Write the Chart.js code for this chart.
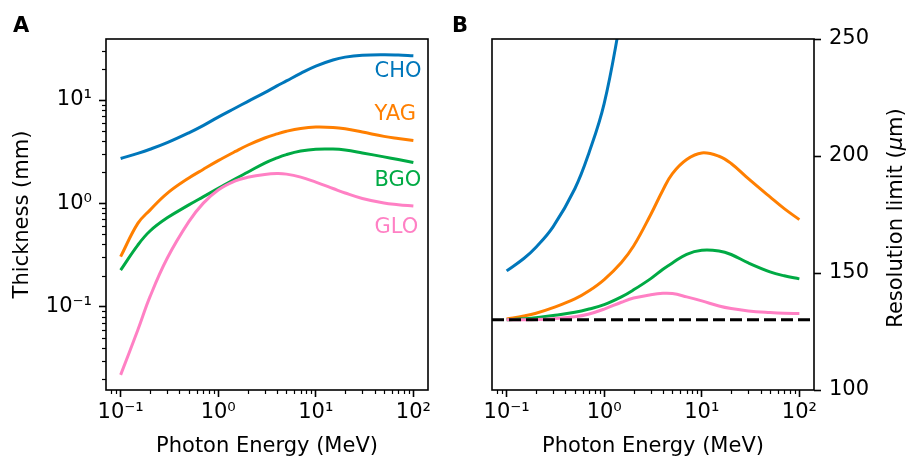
<!DOCTYPE html>
<html>
<head>
<meta charset="utf-8">
<script src="https://cdn.jsdelivr.net/npm/chart.js@4.4.1/dist/chart.umd.min.js"></script>
<style>
  html, body { margin: 0; padding: 0; background: #fff; }
  #wrap { position: relative; width: 909px; height: 459px; }
  #chartA { position: absolute; left: 0; top: 0; }
  #chartB { position: absolute; left: 450px; top: 0; }
</style>
</head>
<body>
<div id="wrap">
  <canvas id="chartA" width="450" height="459"></canvas>
  <canvas id="chartB" width="459" height="459"></canvas>
</div>
<script>
// photon energy (MeV) at which each curve was read
const energies = [0.1, 0.15, 0.2, 0.3, 0.5, 0.7, 1, 1.5, 2, 3, 4, 5, 7, 10, 15, 20, 30, 50, 70, 100];

const materials = ['CHO', 'YAG', 'BGO', 'GLO'];
const colors = ['#0077bb', '#ff7f00', '#00aa44', '#ff80c4'];

// panel A: thickness (mm)
const thicknessCHO = [2.72, 3.05, 3.34, 3.87, 4.82, 5.66, 6.84, 8.37, 9.66, 11.8, 13.7, 15.3, 18.1, 21.3, 24.4, 26.0, 27.1, 27.4, 27.2, 26.8];
const thicknessYAG = [0.305, 0.64, 0.861, 1.25, 1.76, 2.13, 2.59, 3.18, 3.65, 4.29, 4.70, 4.99, 5.31, 5.47, 5.42, 5.26, 4.90, 4.45, 4.24, 4.05];
const thicknessBGO = [0.226, 0.395, 0.54, 0.724, 0.966, 1.156, 1.396, 1.73, 2.0, 2.455, 2.754, 2.965, 3.206, 3.342, 3.35, 3.28, 3.076, 2.818, 2.655, 2.489];
const thicknessGLO = [0.0219, 0.0594, 0.125, 0.294, 0.665, 1.0, 1.349, 1.652, 1.786, 1.905, 1.941, 1.919, 1.795, 1.603, 1.393, 1.259, 1.114, 1.007, 0.971, 0.942];

// panel B: resolution limit (um)
const resolutionCHO = [150.9, 156.2, 161, 169.8, 186, 201.5, 222.5, 260, null, null, null, null, null, null, null, null, null, null, null, null];
const resolutionYAG = [130.3, 131.6, 132.8, 135.2, 138.9, 142.4, 147.2, 154.5, 161.5, 175, 185.5, 192.5, 198.5, 201.3, 199.9, 196.8, 190.3, 182.5, 177.5, 172.8];
const resolutionBGO = [130, 130.4, 130.9, 131.8, 133.2, 134.6, 136.5, 139.8, 142.8, 147.6, 151.6, 154.3, 158, 159.7, 159.4, 157.9, 154.3, 150.5, 148.8, 147.5];
const resolutionGLO = [130, 130, 130.1, 130.5, 131.3, 132.5, 134.6, 137.5, 139.3, 140.7, 141.3, 141.2, 139.8, 138.1, 135.9, 134.8, 133.8, 133.1, 132.8, 132.7];
const baseResolution = 130;

// where the material names sit in panel A
const labelEnergy = 40;
const labelThickness = [19, 7.3, 1.65, 0.586];

const energyTicks = [0.1, 1, 10, 100];
const thicknessTicks = [0.1, 1, 10];
const resolutionTicks = [100, 150, 200, 250];

const energyMin = Math.pow(10, -1.15), energyMax = Math.pow(10, 2.15);

Chart.defaults.font.family = "'DejaVu Sans', sans-serif";
Chart.defaults.font.size = 21;
Chart.defaults.color = '#000';

const supChars = { '-': '\u207b', '0': '\u2070', '1': '\u00b9', '2': '\u00b2', '3': '\u00b3' };
function powLabel(v) {
    const p = String(Math.round(Math.log10(v)));
    return '10' + p.split('').map(c => supChars[c]).join('');
}

function points(ys) {
    return energies.map((e, i) => ({ x: e, y: ys[i] }));
}

function lineSet(label, ys, color, order) {
    return {
        label: label,
        data: points(ys),
        borderColor: color,
        borderWidth: 3,
        pointRadius: 0,
        fill: false,
        tension: 0.4,
        order: order
    };
}

const tickGrid = { display: true, drawOnChartArea: false, drawTicks: true, tickLength: 7, tickWidth: 1.6, tickColor: '#000' };

function energyAxis() {
    return {
        type: 'logarithmic',
        min: energyMin,
        max: energyMax,
        afterBuildTicks: s => { s.ticks = energyTicks.map(v => ({ value: v })); },
        afterFit: s => { s.height = 69; s.paddingLeft = 0; s.paddingRight = 0; },
        ticks: { callback: v => powLabel(v), padding: 3, maxRotation: 0, autoSkip: false },
        grid: tickGrid,
        border: { display: false },
        title: { display: true, text: 'Photon Energy (MeV)', padding: { top: 0, bottom: 0 } }
    };
}

const frame = {
    id: 'frame',
    afterDatasetsDraw(chart) {
        const a = chart.chartArea, ctx = chart.ctx;
        ctx.save();
        ctx.strokeStyle = '#000';
        ctx.lineWidth = 1.6;
        ctx.strokeRect(a.left, a.top, a.right - a.left, a.bottom - a.top);
        ctx.restore();
    }
};

const minorTicks = {
    id: 'minorTicks',
    afterDraw(chart, args, opts) {
        const ctx = chart.ctx;
        ctx.save();
        ctx.strokeStyle = '#000';
        ctx.lineWidth = 1.2;
        (opts.axes || []).forEach(id => {
            const s = chart.scales[id];
            for (let d = -3; d <= 3; d++) {
                for (let m = 2; m < 10; m++) {
                    const v = m * Math.pow(10, d);
                    if (v < s.min || v > s.max) continue;
                    const p = Math.round(s.getPixelForValue(v)) + 0.5;
                    ctx.beginPath();
                    if (s.isHorizontal()) { ctx.moveTo(p, s.top); ctx.lineTo(p, s.top + 4); }
                    else { ctx.moveTo(s.right, p); ctx.lineTo(s.right - 4, p); }
                    ctx.stroke();
                }
            }
        });
        ctx.restore();
    }
};

const panelLetter = {
    id: 'panelLetter',
    afterDraw(chart, args, opts) {
        const ctx = chart.ctx;
        ctx.save();
        ctx.font = "bold 21px 'DejaVu Sans'";
        ctx.fillStyle = '#000';
        ctx.textBaseline = 'alphabetic';
        ctx.fillText(opts.text, opts.x, 32);
        ctx.restore();
    }
};

const materialLabels = {
    id: 'materialLabels',
    afterDatasetsDraw(chart) {
        const ctx = chart.ctx, xs = chart.scales.x, ys = chart.scales.y;
        ctx.save();
        ctx.font = "21px 'DejaVu Sans'";
        ctx.textAlign = 'left';
        ctx.textBaseline = 'middle';
        materials.forEach((m, i) => {
            ctx.fillStyle = colors[i];
            ctx.fillText(m, xs.getPixelForValue(labelEnergy), ys.getPixelForValue(labelThickness[i]));
        });
        ctx.restore();
    }
};

// right-hand title, read bottom to top, with an italic mu
const rightTitle = {
    id: 'rightTitle',
    afterDraw(chart) {
        const ctx = chart.ctx;
        const parts = [['Resolution limit (', 'normal'], ['\u03bc', 'italic'], ['m)', 'normal']];
        ctx.save();
        ctx.translate(447, 218);
        ctx.rotate(-Math.PI / 2);
        ctx.fillStyle = '#000';
        ctx.textBaseline = 'middle';
        let total = 0;
        parts.forEach(p => { ctx.font = p[1] + " 21px 'DejaVu Sans'"; total += ctx.measureText(p[0]).width; });
        let x = -total / 2;
        parts.forEach(p => {
            ctx.font = p[1] + " 21px 'DejaVu Sans'";
            ctx.fillText(p[0], x, 0);
            x += ctx.measureText(p[0]).width;
        });
        ctx.restore();
    }
};

new Chart(document.getElementById('chartA'), {
    type: 'line',
    data: {
        datasets: [
            lineSet('GLO', thicknessGLO, colors[3], 1),
            lineSet('BGO', thicknessBGO, colors[2], 2),
            lineSet('YAG', thicknessYAG, colors[1], 3),
            lineSet('CHO', thicknessCHO, colors[0], 4)
        ]
    },
    options: {
        responsive: false,
        animation: false,
        devicePixelRatio: 1,
        events: [],
        layout: { padding: { left: 0, top: 39, right: 22, bottom: 0 } },
        scales: {
            x: energyAxis(),
            y: {
                type: 'logarithmic',
                min: Math.pow(10, -1.806),
                max: Math.pow(10, 1.5905),
                afterBuildTicks: s => { s.ticks = thicknessTicks.map(v => ({ value: v })); },
                afterFit: s => { s.width = 106; s.paddingTop = 0; s.paddingBottom = 0; },
                ticks: { callback: v => powLabel(v), padding: 7, autoSkip: false },
                grid: tickGrid,
                border: { display: false },
                title: { display: true, text: 'Thickness (mm)', padding: { top: 10, bottom: 0 } }
            }
        },
        plugins: {
            legend: { display: false },
            tooltip: { enabled: false },
            minorTicks: { axes: ['x', 'y'] },
            panelLetter: { text: 'A', x: 13 }
        }
    },
    plugins: [frame, minorTicks, panelLetter, materialLabels]
});

new Chart(document.getElementById('chartB'), {
    type: 'line',
    data: {
        datasets: [
            {
                label: 'limit',
                data: [{ x: energyMin, y: baseResolution }, { x: energyMax, y: baseResolution }],
                borderColor: '#000',
                borderWidth: 3,
                borderDash: [12, 5],
                pointRadius: 0,
                fill: false,
                order: 0
            },
            lineSet('GLO', resolutionGLO, colors[3], 1),
            lineSet('BGO', resolutionBGO, colors[2], 2),
            lineSet('YAG', resolutionYAG, colors[1], 3),
            lineSet('CHO', resolutionCHO, colors[0], 4)
        ]
    },
    options: {
        responsive: false,
        animation: false,
        devicePixelRatio: 1,
        events: [],
        layout: { padding: { left: 42, top: 39, right: 0, bottom: 0 } },
        scales: {
            x: energyAxis(),
            y: {
                type: 'linear',
                position: 'right',
                min: 100,
                max: 250,
                afterBuildTicks: s => { s.ticks = resolutionTicks.map(v => ({ value: v })); },
                afterFit: s => { s.width = 95; s.paddingTop = 0; s.paddingBottom = 0; },
                ticks: { padding: 8, autoSkip: false },
                grid: tickGrid,
                border: { display: false },
                title: { display: false }
            }
        },
        plugins: {
            legend: { display: false },
            tooltip: { enabled: false },
            minorTicks: { axes: ['x'] },
            panelLetter: { text: 'B', x: 2 }
        }
    },
    plugins: [frame, minorTicks, panelLetter, rightTitle]
});
</script>
</body>
</html>
